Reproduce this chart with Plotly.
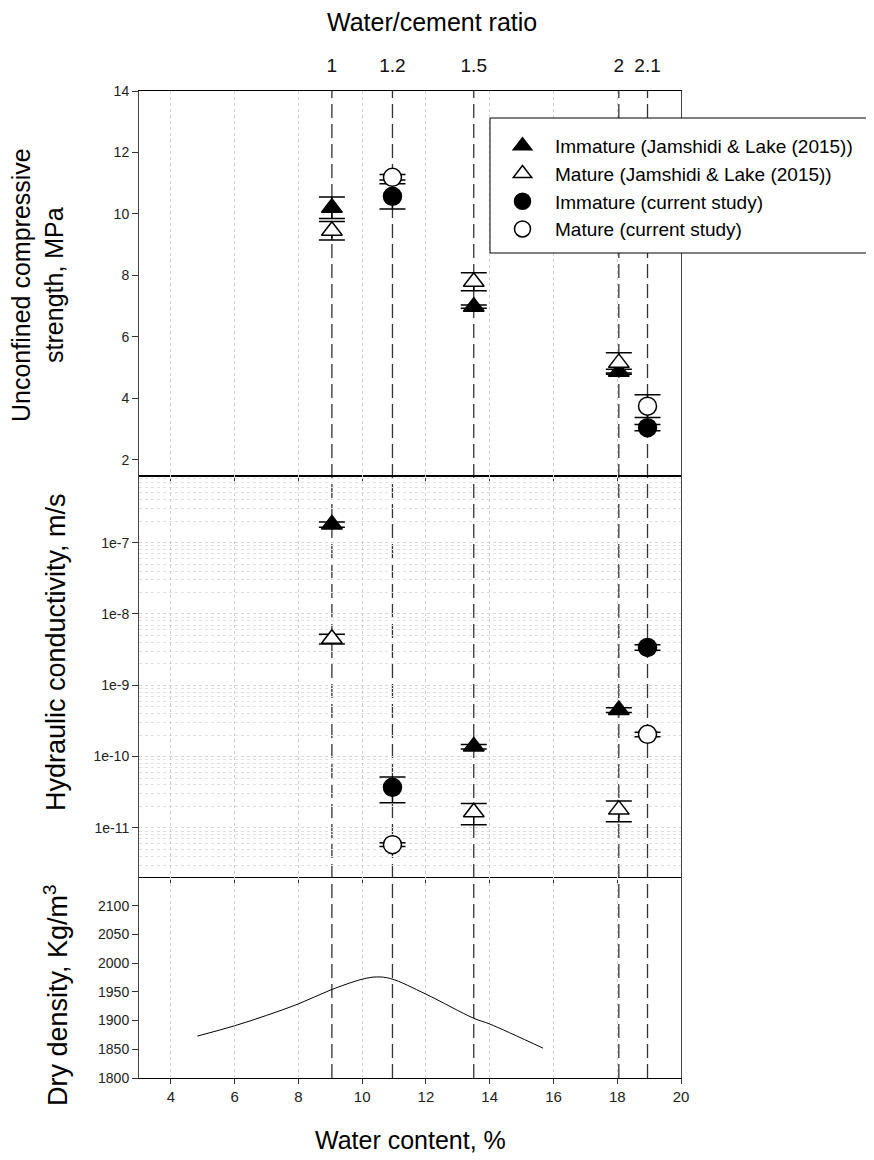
import plotly.graph_objects as go

# ---------------- data ----------------
wc_ratio_labels = ["1", "1.2", "1.5", "2", "2.1"]
wc_ratio_x = [9.05, 10.95, 13.5, 18.05, 18.95]

jl_x = [9.05, 13.5, 18.05]          # Jamshidi & Lake (2015) water contents
cur_x = [10.95, 18.95]              # current study water contents

# Unconfined compressive strength, MPa
imm_jl_ucs = [10.2, 6.98, 4.86]
imm_jl_ucs_err = [0.35, 0.05, 0.08]
mat_jl_ucs = [9.45, 7.79, 5.15]
mat_jl_ucs_err = [0.3, 0.29, 0.33]
imm_cur_ucs = [10.57, 3.04]
imm_cur_ucs_err = [0.41, 0.1]
mat_cur_ucs = [11.19, 3.74]
mat_cur_ucs_err = [0.09, 0.37]

# Hydraulic conductivity, m/s
imm_jl_k = [1.8e-7, 1.38e-10, 4.5e-10]
imm_jl_k_err = [0.15e-7, 0.1e-10, 0.35e-10]
mat_jl_k = [4.5e-9, 1.65e-11, 1.8e-11]
mat_jl_k_err = [0.7e-9, 0.55e-11, 0.58e-11]
imm_cur_k = [3.7e-11, 3.4e-9]
imm_cur_k_err = [1.45e-11, 0.3e-9]
mat_cur_k = [5.8e-12, 2.05e-10]
mat_cur_k_err = [0.35e-12, 0.15e-10]

# Dry density (compaction curve)
dd_wc = [4.83, 6.0, 7.0, 8.0, 9.0, 10.0, 10.45, 10.9, 12.0, 13.5, 14.0, 15.67]
dd_rho = [1873, 1891, 1909, 1929, 1953, 1972, 1976, 1973, 1946, 1904, 1894, 1852]

series_names = [
    "Immature (Jamshidi & Lake (2015))",
    "Mature (Jamshidi & Lake (2015))",
    "Immature (current study)",
    "Mature (current study)",
]

x_ticks = [4, 6, 8, 10, 12, 14, 16, 18, 20]
ucs_ticks = [2, 4, 6, 8, 10, 12, 14]
k_ticks = [1e-11, 1e-10, 1e-9, 1e-8, 1e-7]
k_ticktext = ["1e-11", "1e-10", "1e-9", "1e-8", "1e-7"]
dd_ticks = [1800, 1850, 1900, 1950, 2000, 2050, 2100]

# ---------------- geometry (page has 8px body margin) ----------------
W, H = 866, 1152
OFF = 8
PL, PR, PT, PB = 139 - OFF, 681 - OFF, 91 - OFF, 1078 - OFF   # plot area in figure px
PW, PH = PR - PL, PB - PT


def px_x(xr):   # reference x px -> paper
    return (xr - OFF - PL) / PW


def px_y(yr):   # reference y px -> paper
    return (PB - (yr - OFF)) / PH


FONT = "Liberation Sans, Arial, sans-serif"
TITLE_SIZE = 25
MS = 18
styles = [
    dict(symbol="triangle-up", color="black", line=dict(color="black", width=1.5)),
    dict(symbol="triangle-up", color="white", line=dict(color="black", width=1.5)),
    dict(symbol="circle", color="black", line=dict(color="black", width=1.5)),
    dict(symbol="circle", color="white", line=dict(color="black", width=1.5)),
]


def err(arr):
    return dict(type="data", array=arr, visible=True, color="black", thickness=1.5, width=13)


fig = go.Figure()

ucs_sets = [
    (jl_x, imm_jl_ucs, imm_jl_ucs_err),
    (jl_x, mat_jl_ucs, mat_jl_ucs_err),
    (cur_x, imm_cur_ucs, imm_cur_ucs_err),
    (cur_x, mat_cur_ucs, mat_cur_ucs_err),
]
k_sets = [
    (jl_x, imm_jl_k, imm_jl_k_err),
    (jl_x, mat_jl_k, mat_jl_k_err),
    (cur_x, imm_cur_k, imm_cur_k_err),
    (cur_x, mat_cur_k, mat_cur_k_err),
]

for i, (xs, ys, es) in enumerate(ucs_sets):
    fig.add_trace(go.Scatter(
        x=xs, y=ys, mode="markers", name=series_names[i],
        marker=dict(size=MS, **styles[i]), error_y=err(es),
        xaxis="x", yaxis="y", showlegend=True,
    ))
for i, (xs, ys, es) in enumerate(k_sets):
    fig.add_trace(go.Scatter(
        x=xs, y=ys, mode="markers", name=series_names[i],
        marker=dict(size=MS, **styles[i]), error_y=err(es),
        xaxis="x2", yaxis="y2", showlegend=False,
    ))

fig.add_trace(go.Scatter(
    x=dd_wc, y=dd_rho, mode="lines", line=dict(color="black", width=1, shape="spline"),
    xaxis="x3", yaxis="y3", showlegend=False, name="Dry density",
))

# invisible trace to activate top axis
fig.add_trace(go.Scatter(x=wc_ratio_x, y=[None] * len(wc_ratio_x), xaxis="x4", yaxis="y",
                         mode="markers", showlegend=False, hoverinfo="skip"))

# vertical dashed lines at the water/cement ratios
for v in wc_ratio_x:
    fig.add_shape(type="line", xref="x", yref="paper", x0=v, x1=v, y0=0, y1=1,
                  line=dict(color="#333333", width=1.3, dash="14px,6px"), layer="between")

# legend frame (white box that also covers the plot border, as in the reference)
fig.add_shape(type="rect", xref="paper", yref="paper",
              x0=px_x(490), x1=px_x(867), y0=px_y(253), y1=px_y(118),
              line=dict(color="black", width=1), fillcolor="white", layer="above")

d_bot = (1078 - 877) / 987
d_mid = (1078 - 475) / 987

grid = dict(showgrid=True, gridcolor="#cfcfcf", griddash="dot", gridwidth=1)
xcommon = dict(range=[3, 20], tickvals=x_ticks, ticks="outside", ticklen=5, automargin=False,
               tickcolor="#333", zeroline=False, **grid)
ycommon = dict(ticks="outside", ticklen=6, tickcolor="#333", showline=True, linecolor="#444",
               linewidth=1, mirror=True, zeroline=False, automargin=False,
               tickfont=dict(size=14, color="#222"))

minor_k = [k * 10 ** e for e in range(-12, -5) for k in range(2, 10)]

fig.update_layout(
    width=W, height=H,
    margin=dict(l=PL, r=W - PR, t=PT, b=H - PB),
    paper_bgcolor="white", plot_bgcolor="white",
    font=dict(family=FONT, color="black"),
    xaxis=dict(anchor="y", domain=[0, 1], showticklabels=False, showline=True,
               linecolor="black", linewidth=2, **xcommon),
    yaxis=dict(anchor="x", domain=[d_mid, 1], range=[1.5, 14], tickvals=ucs_ticks,
               showgrid=False, **ycommon),
    xaxis2=dict(anchor="y2", domain=[0, 1], matches="x", showticklabels=False, showline=True,
                linecolor="black", linewidth=1, **xcommon),
    yaxis2=dict(anchor="x2", domain=[d_bot, d_mid], type="log", range=[-11.69, -6.05],
                tickvals=k_ticks, ticktext=k_ticktext, showgrid=True, gridcolor="#d4d4d4",
                griddash="dot",
                minor=dict(tickvals=minor_k, showgrid=True, gridcolor="#e0e0e0", griddash="dot",
                           ticks=""),
                **ycommon),
    xaxis3=dict(anchor="y3", domain=[0, 1], matches="x", showticklabels=True, showline=True,
                linecolor="black", linewidth=1, tickfont=dict(size=15, color="#222"),
                **xcommon),
    yaxis3=dict(anchor="x3", domain=[0, d_bot], range=[1800, 2150], tickvals=dd_ticks,
                showgrid=False, **ycommon),
    xaxis4=dict(overlaying="x", side="top", anchor="y", range=[3, 20], tickvals=wc_ratio_x,
                ticktext=wc_ratio_labels, ticks="", showgrid=False, showline=True,
                linecolor="black", linewidth=1, zeroline=False, ticklabelstandoff=10,
                automargin=False, tickfont=dict(size=19, color="#111")),
    legend=dict(x=px_x(490), y=px_y(127), xanchor="left", yanchor="top",
                borderwidth=0, bgcolor="rgba(0,0,0,0)", itemwidth=55,
                font=dict(size=19, family=FONT), tracegroupgap=0),
    annotations=[
        dict(text="Water/cement ratio", xref="paper", yref="paper",
             x=px_x(432), y=px_y(22), showarrow=False,
             xanchor="center", yanchor="middle", font=dict(size=TITLE_SIZE)),
        dict(text="Water content, %", xref="paper", yref="paper",
             x=px_x(410), y=px_y(1140), showarrow=False,
             xanchor="center", yanchor="middle", font=dict(size=TITLE_SIZE)),
        dict(text="Unconfined compressive<br>strength, MPa", xref="paper", yref="paper",
             x=px_x(37), y=px_y(285), textangle=-90, showarrow=False,
             xanchor="center", yanchor="middle", font=dict(size=TITLE_SIZE)),
        dict(text="Hydraulic conductivity, m/s", xref="paper", yref="paper",
             x=px_x(56), y=px_y(652), textangle=-90, showarrow=False,
             xanchor="center", yanchor="middle", font=dict(size=27)),
        dict(text="Dry density, Kg/m<sup>3</sup>", xref="paper", yref="paper",
             x=px_x(56), y=px_y(995), textangle=-90, showarrow=False,
             xanchor="center", yanchor="middle", font=dict(size=27)),
    ],
)

fig.write_html("out.html")
